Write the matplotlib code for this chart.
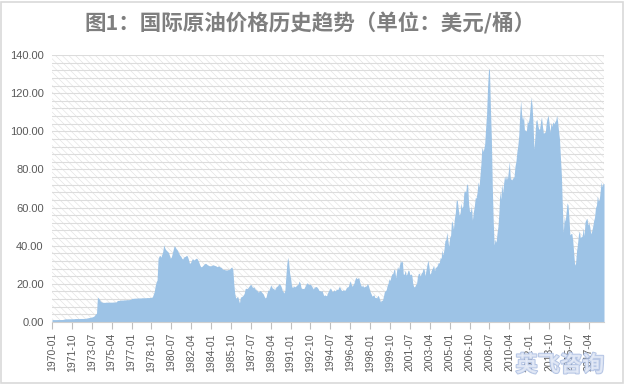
import numpy as np
import matplotlib
matplotlib.use('Agg')
import matplotlib.pyplot as plt
import matplotlib.patheffects as pe
from matplotlib.patches import Rectangle

# monthly average crude price (USD/bbl), 1970-01 .. 2018-08
prices_1970s = [
    1.25, 1.25, 1.25, 1.25, 1.25, 1.25, 1.28, 1.28, 1.28, 1.30, 1.30, 1.30,
    1.40, 1.55, 1.65, 1.65, 1.65, 1.68, 1.68, 1.68, 1.68, 1.70, 1.70, 1.70,
    1.80, 1.82, 1.82, 1.82, 1.82, 1.82, 1.85, 1.85, 1.85, 1.85, 1.88, 1.90,
    2.00, 2.10, 2.20, 2.30, 2.40, 2.50, 2.60, 2.80, 3.00, 3.50, 4.20, 4.60,
    13.0, 12.6, 12.0, 11.0, 10.6, 10.4, 10.3, 10.3, 10.3, 10.4, 10.4, 10.4,
    10.4, 10.4, 10.4, 10.4, 10.4, 10.5, 10.5, 10.5, 10.6, 11.3, 11.3, 11.3,
    11.4, 11.5, 11.5, 11.5, 11.6, 11.6, 11.6, 11.7, 11.7, 11.7, 11.8, 11.8,
    12.3, 12.4, 12.4, 12.5, 12.5, 12.5, 12.6, 12.6, 12.6, 12.6, 12.6, 12.7,
    12.7, 12.7, 12.7, 12.7, 12.8, 12.8, 12.8, 12.8, 12.9, 12.9, 13.2, 14.5,
    16.0, 19.0, 21.0, 22.0, 33.0, 34.5, 35.0, 34.0, 35.5, 37.0, 40.5, 39.0,
]
prices_1980s = [
    38.0, 37.5, 37.0, 36.5, 35.0, 33.5, 34.0, 36.0, 38.0, 40.0, 39.5, 38.5,
    38.0, 37.0, 36.0, 35.0, 34.5, 33.5, 33.0, 34.0, 34.3, 34.5, 35.0, 34.5,
    33.0, 31.0, 30.8, 32.0, 33.0, 33.0, 32.5, 33.0, 33.4, 33.4, 32.5, 31.5,
    30.0, 29.0, 29.0, 29.5, 30.0, 30.5, 30.8, 30.5, 30.0, 29.8, 29.5, 29.5,
    29.5, 29.8, 30.0, 29.8, 29.6, 29.5, 29.0, 29.2, 29.5, 29.0, 28.8, 28.5,
    27.8, 27.5, 27.6, 27.3, 27.3, 27.3, 27.5, 27.5, 28.0, 28.6, 28.8, 27.3,
    20.0, 15.0, 12.6, 12.8, 13.5, 11.8, 10.0, 13.0, 13.3, 13.5, 14.2, 15.0,
    17.5, 17.7, 17.5, 18.0, 18.7, 19.4, 19.8, 18.8, 18.0, 18.5, 17.7, 17.0,
    16.8, 16.2, 15.6, 16.3, 16.5, 15.9, 15.3, 14.8, 13.6, 12.6, 13.0, 15.0,
    16.8, 16.5, 17.9, 19.4, 18.5, 17.6, 17.7, 16.8, 17.7, 18.7, 18.8, 19.5,
]
prices_1990s = [
    20.2, 19.5, 18.5, 16.8, 16.0, 15.2, 16.8, 24.0, 30.5, 34.0, 31.0, 25.5,
    23.0, 19.0, 18.0, 18.7, 18.8, 18.4, 19.2, 19.5, 20.0, 21.5, 20.5, 18.0,
    17.5, 17.6, 17.5, 18.5, 19.5, 20.5, 20.3, 19.6, 19.8, 19.8, 19.0, 18.2,
    17.3, 18.2, 18.5, 18.6, 18.2, 17.5, 16.5, 16.5, 16.1, 16.6, 15.3, 13.8,
    14.3, 13.9, 13.8, 15.2, 16.4, 17.1, 17.9, 17.0, 15.9, 16.3, 16.9, 16.2,
    16.9, 17.2, 17.1, 18.5, 18.3, 17.2, 16.4, 16.7, 16.9, 16.5, 17.1, 18.1,
    18.3, 18.7, 20.4, 21.6, 19.8, 18.7, 19.6, 20.5, 22.4, 23.5, 22.7, 23.0,
    23.2, 21.0, 19.6, 18.5, 19.6, 18.3, 18.6, 18.8, 18.9, 20.2, 19.4, 17.6,
    15.9, 14.8, 13.6, 13.9, 14.3, 12.8, 12.9, 12.6, 14.0, 13.4, 11.8, 10.5,
    11.5, 11.3, 13.3, 15.8, 16.4, 16.9, 19.2, 20.4, 22.7, 21.8, 24.0, 25.3,
]
prices_2000s = [
    25.4, 27.6, 27.4, 23.2, 27.0, 29.1, 27.5, 29.8, 32.3, 31.2, 32.1, 25.2,
    25.0, 27.1, 24.6, 25.2, 27.2, 26.9, 24.7, 25.2, 24.6, 20.3, 18.5, 18.5,
    19.6, 20.1, 23.8, 25.6, 25.4, 24.1, 25.7, 26.3, 28.3, 27.6, 24.3, 27.3,
    30.1, 32.5, 29.6, 25.1, 25.8, 27.6, 28.4, 29.8, 26.9, 28.8, 28.8, 29.8,
    31.2, 30.9, 33.8, 33.4, 37.9, 35.2, 38.2, 42.7, 43.2, 47.0, 43.1, 39.7,
    44.3, 45.5, 53.1, 51.9, 48.7, 54.3, 57.5, 63.9, 63.8, 59.5, 56.1, 57.0,
    62.5, 59.7, 60.9, 68.0, 68.7, 68.3, 72.5, 71.8, 62.0, 57.9, 58.1, 60.9,
    53.4, 57.6, 60.6, 65.1, 65.1, 68.2, 73.5, 70.9, 76.8, 82.9, 91.7, 89.5,
    90.7, 93.4, 101.8, 109.1, 122.8, 132.0, 133.0, 113.2, 97.0, 71.6, 52.5, 40.4,
    43.4, 41.8, 46.5, 50.2, 57.3, 68.6, 64.4, 72.5, 67.7, 72.8, 76.7, 74.5,
]
prices_2010s = [
    77.1, 74.8, 79.3, 84.2, 75.6, 74.7, 74.6, 75.8, 76.1, 81.7, 84.3, 89.2,
    92.7, 97.9, 108.7, 116.3, 108.7, 105.9, 107.9, 100.5, 100.8, 99.9, 105.4, 104.3,
    107.1, 112.7, 117.8, 113.7, 104.1, 90.7, 96.8, 105.3, 106.3, 103.4, 101.2, 101.2,
    105.1, 107.6, 102.5, 98.9, 99.4, 99.7, 104.5, 107.0, 108.5, 104.2, 99.5, 104.6,
    102.5, 105.0, 104.0, 104.9, 105.7, 108.4, 105.2, 100.1, 95.9, 86.1, 76.9, 60.7,
    47.1, 54.8, 52.8, 57.5, 62.5, 61.3, 54.3, 45.7, 46.3, 46.4, 42.7, 36.2,
    29.8, 31.0, 37.3, 40.8, 45.9, 47.7, 44.1, 44.9, 45.0, 49.3, 45.3, 52.6,
    53.6, 54.4, 50.9, 52.2, 49.9, 46.2, 47.7, 49.9, 53.0, 54.9, 59.9, 61.2,
    66.2, 63.5, 64.2, 68.8, 73.4, 71.0, 72.7, 72.5,
]

tick_labels = [
    '1970-01', '1971-10', '1973-07', '1975-04', '1977-01', '1978-10', '1980-07',
    '1982-04', '1984-01', '1985-10', '1987-07', '1989-04', '1991-01', '1992-10',
    '1994-07', '1996-04', '1998-01', '1999-10', '2001-07', '2003-04', '2005-01',
    '2006-10', '2008-07', '2010-04', '2012-01', '2013-10', '2015-07', '2017-04',
]

title = '图1：国际原油价格历史趋势（单位：美元/桶）'
watermark = '英飞咨询'

prices = np.array(prices_1970s + prices_1980s + prices_1990s + prices_2000s + prices_2010s)
x = np.arange(len(prices))

plt.rcParams['font.family'] = ['Noto Sans CJK SC', 'DejaVu Sans']
plt.rcParams['hatch.linewidth'] = 0.45

fig = plt.figure(figsize=(6.25, 3.84), dpi=100)
ax = fig.add_axes([52 / 625, 1 - 322 / 384, 552 / 625, 267 / 384])

# hatched plot-area background like the excel chart
ax.add_patch(Rectangle((0, 0), 1, 1, transform=ax.transAxes, facecolor='white',
                       edgecolor='#e2e2e2', hatch='\\\\\\\\\\', lw=0, zorder=0))

ax.fill_between(x, prices, 0, color='#9dc3e6', lw=0, zorder=2)

ax.set_xlim(0, len(prices) - 1)
ax.set_ylim(0, 140)
ax.set_yticks(np.arange(0, 141, 20))
ax.set_yticks(np.arange(0, 141, 4), minor=True)
ax.set_yticklabels([f'{v:.2f}' for v in np.arange(0, 141, 20)],
                   family='Liberation Sans', fontsize=8, color='#595959')
ax.grid(axis='y', which='both', color='#dcdcdc', lw=0.8)
ax.set_axisbelow(True)

ax.set_xticks(np.arange(len(tick_labels)) * 21)
ax.set_xticklabels(tick_labels, rotation=90, family='Liberation Sans',
                   fontsize=7.5, color='#595959')
ax.tick_params(axis='x', length=5, color='#bfbfbf', pad=3)
ax.tick_params(axis='y', which='both', length=0, pad=6)

for s in ['top', 'right', 'left']:
    ax.spines[s].set_visible(False)
ax.spines['bottom'].set_color('#d0d0d0')
ax.spines['bottom'].set_zorder(3)

fig.text(0.496, 1 - 23 / 384, title, ha='center', va='center', fontsize=15.5,
         fontweight='bold', color='#7f7f7f')

fig.text(560 / 625, 1 - 365 / 384, watermark, ha='center', va='center', fontsize=16,
         fontweight='bold', color='#e6ecf8', alpha=0.8,
         path_effects=[pe.withStroke(linewidth=1.4, foreground='#a3b7de')])

fig.patches.append(Rectangle((0.5 / 625, 1.5 / 384), 622 / 625, 381 / 384,
                             transform=fig.transFigure, fill=False,
                             edgecolor='#d9d9d9', lw=1.2))

fig.savefig('out.png', dpi=100)
